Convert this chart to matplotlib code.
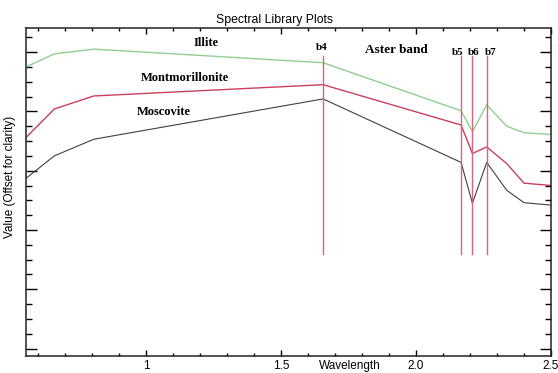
import matplotlib
matplotlib.use("Agg")
import matplotlib.pyplot as plt
from matplotlib.ticker import MultipleLocator, FixedLocator, FixedFormatter

# ASTER band centre wavelengths (um) plus the right edge
wavelength = [0.556, 0.661, 0.807, 1.656, 2.167, 2.209, 2.262, 2.336, 2.400, 2.5]
illite = [0.775, 0.797, 0.805, 0.782, 0.701, 0.666, 0.711, 0.675, 0.664, 0.661]
montmorillonite = [0.656, 0.704, 0.726, 0.745, 0.677, 0.629, 0.640, 0.612, 0.579, 0.575]
moscovite = [0.587, 0.625, 0.653, 0.721, 0.614, 0.545, 0.614, 0.567, 0.546, 0.542]

band_names = ["b4", "b5", "b6", "b7"]
band_pos = [1.656, 2.167, 2.209, 2.262]
band_label_x = [1.652, 2.156, 2.215, 2.275]
band_label_y = [0.807, 0.800, 0.800, 0.800]

mineral_names = ["Illite", "Montmorillonite", "Moscovite"]
mineral_label_x = [1.223, 1.145, 1.067]
mineral_label_y = [0.815, 0.756, 0.699]

xtick_vals = [1.0, 1.5, 2.0, 2.5]
xtick_labels = ["1", "1.5", "2.0", "2.5"]

fig = plt.figure(figsize=(5.58, 3.73), dpi=100)
ax = fig.add_axes([26/558, 1-355.7/373, 525/558, 327.7/373])

ax.plot(wavelength, illite, color="#8fd08f", lw=1.0)
ax.plot(wavelength, montmorillonite, color="#c8405e", lw=1.0)
ax.plot(wavelength, moscovite, color="#404040", lw=0.8)

for b in band_pos:
    ax.plot([b, b], [0.460, 0.793], color="#d9657c", lw=1.0)

ax.set_xlim(0.556, 2.5)
ax.set_ylim(0.288, 0.8406)

ax.xaxis.set_major_locator(FixedLocator(xtick_vals))
ax.xaxis.set_major_formatter(FixedFormatter(xtick_labels))
ax.xaxis.set_minor_locator(MultipleLocator(0.1))
ax.yaxis.set_major_locator(MultipleLocator(0.1))
ax.yaxis.set_minor_locator(MultipleLocator(0.025))
ax.set_yticklabels([])
ax.tick_params(axis="x", which="major", direction="in", length=4.5, width=1.0,
               top=True, labelsize=8.5, pad=3)
ax.tick_params(axis="x", which="minor", direction="in", length=2.3, width=1.0, top=True)
ax.tick_params(axis="y", which="major", direction="in", length=8, width=1.0,
               right=True, labelleft=False)
ax.tick_params(axis="y", which="minor", direction="in", length=4, width=1.0, right=True)
for s in ax.spines.values():
    s.set_linewidth(1.1)
    s.set_color("#222222")

serif = ["Liberation Serif", "DejaVu Serif"]
for name, xx, yy in zip(mineral_names, mineral_label_x, mineral_label_y):
    ax.text(xx, yy, name, family=serif, weight="bold", fontsize=9, ha="center", va="center")
ax.text(1.926, 0.8035, "Aster band", family=serif, weight="bold", fontsize=9.5, ha="center", va="center")
for name, xx, yy in zip(band_names, band_label_x, band_label_y):
    ax.text(xx, yy, name, family=serif, weight="bold", fontsize=8, ha="center", va="center")

# tiny clipped legend marks at the right edge
for yy, c in zip([0.823, 0.812, 0.802], ["#8fd08f", "#c8405e", "#404040"]):
    ax.text(2.508, yy, "-", color=c, fontsize=3, ha="left", va="center", clip_on=False)

sans = ["Liberation Sans", "DejaVu Sans"]
fig.text(275/558, 1-20/373, "Spectral Library Plots", family=sans, fontsize=8.8, ha="center", va="center")
fig.text(350/558, 1-366/373, "Wavelength", family=sans, fontsize=8.5, ha="center", va="center")
fig.text(10/558, 1-177/373, "Value (Offset for clarity)", family=sans, fontsize=8.5,
         ha="center", va="center", rotation=90)
for lab in ax.get_xticklabels():
    lab.set_family(sans)

fig.savefig("out.png", dpi=100)
